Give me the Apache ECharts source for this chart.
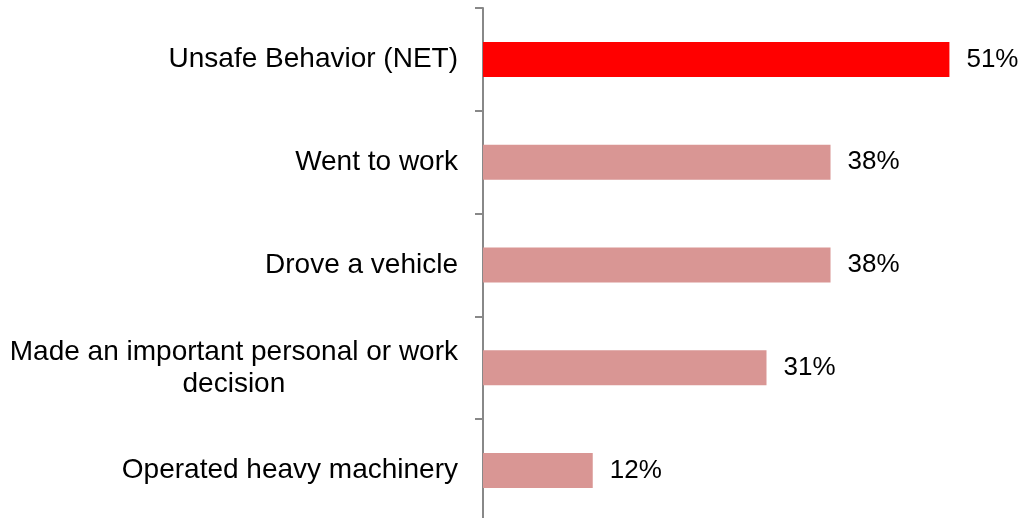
<!DOCTYPE html>
<html>
<head>
<meta charset="utf-8">
<script src="https://cdn.jsdelivr.net/npm/echarts@6/dist/echarts.min.js"></script>
<style>html,body{margin:0;padding:0;background:#fff;}#c{width:1022px;height:518px;}</style>
</head>
<body>
<div id="c"></div>
<script>
var categories = ["Unsafe Behavior (NET)", "Went to work", "Drove a vehicle", "Made an important personal or work\ndecision", "Operated heavy machinery"];
var values = [51, 38, 38, 31, 12];
var barColors = ["#FF0000", "#D99694", "#D99694", "#D99694", "#D99694"];

var chart = echarts.init(document.getElementById('c'), null, {renderer: 'canvas'});
chart.setOption({
  animation: false,
  backgroundColor: '#ffffff',
  grid: {left: 483, width: 503, top: 8, height: 514, containLabel: false, outerBoundsMode: 'none'},
  xAxis: {type: 'value', min: 0, max: 55, show: false},
  yAxis: {
    type: 'category', data: categories, inverse: true,
    axisLine: {show: true, lineStyle: {color: '#888888', width: 2}},
    axisTick: {show: true, length: 8, lineStyle: {color: '#888888', width: 2}},
    axisLabel: {
      margin: 25, color: '#000', fontFamily: 'Liberation Sans, Arial, sans-serif', fontSize: 28,
      formatter: function (v) {
        return v.split('\n').map(function (s) { return '{c|' + s + '}'; }).join('\n');
      },
      rich: {c: {align: 'center', fontFamily: 'Liberation Sans, Arial, sans-serif', fontSize: 28, color: '#000', lineHeight: 32}}
    }
  },
  series: [{
    type: 'bar', barWidth: 35,
    data: values.map(function (v, i) { return {value: v, itemStyle: {color: barColors[i]}}; }),
    label: {show: true, position: 'right', distance: 17, formatter: '{c}%', color: '#000',
      fontFamily: 'Liberation Sans, Arial, sans-serif', fontSize: 26}
  }]
});
</script>
</body>
</html>
